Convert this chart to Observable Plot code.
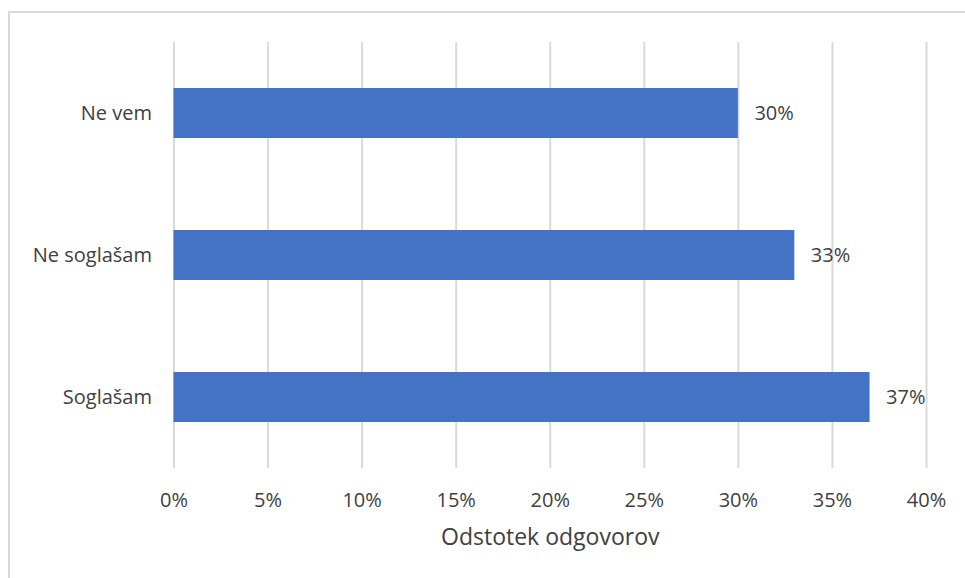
<!DOCTYPE html>
<html>
<head>
<meta charset="utf-8">
<script src="https://cdn.jsdelivr.net/npm/d3@7"></script>
<script src="https://cdn.jsdelivr.net/npm/@observablehq/plot@0.6"></script>
<style>
  html, body { margin: 0; padding: 0; background: #fff; }
  #wrap { position: relative; width: 965px; height: 578px; overflow: hidden; }
  #border { position: absolute; left: 8px; top: 11px; width: 980px; height: 600px; border: 2px solid #d9d9d9; box-sizing: border-box; pointer-events: none; }
  svg { font-family: "Open Sans", sans-serif; }
</style>
</head>
<body>
<div id="wrap"><div id="border"></div><div id="chart"></div></div>
<script>
const categories = ["Ne vem", "Ne soglašam", "Soglašam"];
const values = [30, 33, 37];
const xTicks = [0, 5, 10, 15, 20, 25, 30, 35, 40];
const xLabel = "Odstotek odgovorov";

const data = categories.map((c, i) => ({category: c, value: values[i]}));

const chart = Plot.plot({
  width: 965,
  height: 578,
  marginLeft: 173.5,
  marginRight: 39,
  marginTop: 42,
  marginBottom: 110,
  style: {fontFamily: "'Open Sans', sans-serif", fontSize: "20px", color: "#404040", background: "transparent"},
  x: {domain: [0, 40], ticks: xTicks, tickFormat: d => d + "%", label: null},
  y: {domain: categories, paddingInner: 0.65, paddingOuter: 0.325, label: null},
  marks: [
    Plot.ruleX(xTicks, {x: d => d, stroke: "#d9d9d9", strokeWidth: 2}),
    Plot.barX(data, {x: "value", y: "category", fill: "#4472c4"}),
    Plot.text(data, {x: "value", y: "category", text: d => d.value + "%", textAnchor: "start", dx: 16, fill: "#404040", fontSize: 20}),
    Plot.axisX({ticks: xTicks, tickFormat: d => d + "%", tickSize: 0, tickPadding: 24, fontSize: 20, fill: "#404040", label: null}),
    Plot.axisY({tickSize: 0, tickPadding: 22, fontSize: 20, fill: "#404040", label: null}),
    Plot.text([xLabel], {frameAnchor: "bottom", dy: 76, fontSize: 23, fill: "#404040", text: d => d})
  ]
});
document.getElementById("chart").appendChild(chart);
</script>
</body>
</html>
